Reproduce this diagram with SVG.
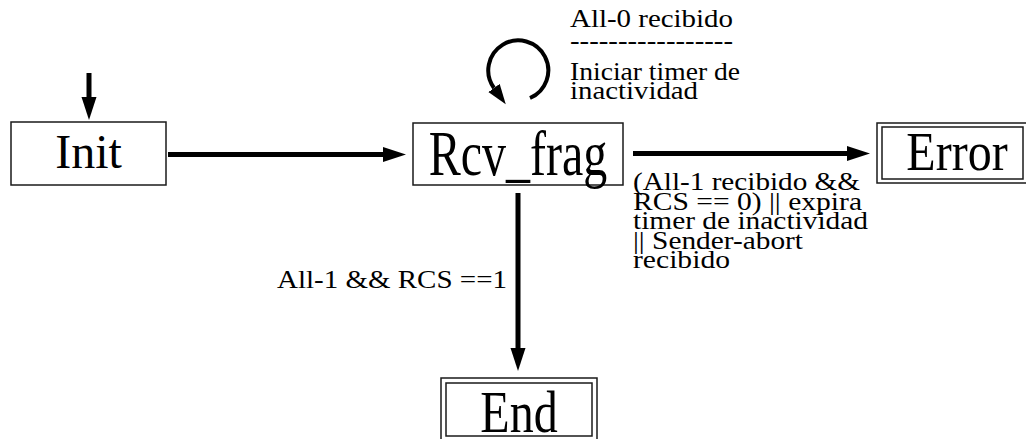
<svg xmlns="http://www.w3.org/2000/svg" width="1026" height="439" viewBox="0 0 1026 439">
  <style>
    .box { fill: #ffffff; stroke: #1a1a1a; stroke-width: 1.5; }
    .state { font-size: 48px; fill: #000; text-anchor: middle; }
    .lbl { font-size: 25px; fill: #000; }
    .edge { fill: none; stroke: #000; stroke-width: 5; }
    .loop { fill: none; stroke: #000; stroke-width: 4; }
  </style>
  <defs>
    <marker id="head" markerUnits="userSpaceOnUse" markerWidth="24" markerHeight="16" refX="0" refY="7.5" orient="auto">
      <path d="M0,0 L23,7.5 L0,15 Z" fill="#000"/>
    </marker>
    <marker id="headSmall" markerUnits="userSpaceOnUse" markerWidth="22" markerHeight="15" refX="0" refY="7" orient="auto">
      <path d="M0,0 L20,7 L0,14 Z" fill="#000"/>
    </marker>
  </defs>

  <rect width="1026" height="439" fill="#ffffff"/>

  <!-- transitions -->
  <g id="connectors">
    <line class="edge" x1="89" y1="73" x2="89" y2="97" marker-end="url(#head)"/>
    <line class="edge" x1="168" y1="154.5" x2="383" y2="154.5" marker-end="url(#head)"/>
    <line class="edge" x1="633" y1="153.5" x2="847" y2="153.5" marker-end="url(#head)"/>
    <line class="edge" x1="518" y1="193" x2="518" y2="348" marker-end="url(#head)"/>
    <path class="loop" d="M530,98 A30,30 0 1 0 494,88" marker-end="url(#headSmall)"/>
  </g>

  <!-- transition labels -->
  <g id="labels" font-family="'Liberation Serif', 'Times New Roman', serif">
    <g id="label-self">
      <text class="lbl" x="570" y="27" textLength="163" lengthAdjust="spacingAndGlyphs">All-0 recibido</text>
      <text class="lbl" x="570" y="49" textLength="163" lengthAdjust="spacingAndGlyphs">-----------------</text>
      <text class="lbl" x="570" y="80" textLength="170" lengthAdjust="spacingAndGlyphs">Iniciar timer de</text>
      <text class="lbl" x="570" y="99" textLength="128" lengthAdjust="spacingAndGlyphs">inactividad</text>
    </g>
    <g id="label-error">
      <text class="lbl" x="633" y="190" textLength="227" lengthAdjust="spacingAndGlyphs">(All-1 recibido &amp;&amp;</text>
      <text class="lbl" x="633" y="209.5" textLength="229" lengthAdjust="spacingAndGlyphs">RCS == 0) || expira</text>
      <text class="lbl" x="633" y="229" textLength="235" lengthAdjust="spacingAndGlyphs">timer de inactividad</text>
      <text class="lbl" x="633" y="248.5" textLength="170" lengthAdjust="spacingAndGlyphs">|| Sender-abort</text>
      <text class="lbl" x="633" y="268" textLength="97" lengthAdjust="spacingAndGlyphs">recibido</text>
    </g>
    <text id="label-end" class="lbl" x="277" y="288" textLength="230" lengthAdjust="spacingAndGlyphs" font-size="27">All-1 &amp;&amp; RCS ==1</text>
  </g>

  <!-- states -->
  <g id="states" font-family="'Liberation Serif', 'Times New Roman', serif">
    <g id="node-init">
      <rect class="box" x="11" y="122" width="155" height="63"/>
      <text class="state" x="88.5" y="168">Init</text>
    </g>
    <g id="node-rcv-frag">
      <rect class="box" x="413" y="123" width="210" height="62"/>
      <text class="state" transform="translate(518,175) scale(1,1.3)">Rcv_frag</text>
    </g>
    <g id="node-error">
      <rect class="box" x="877" y="123" width="155" height="60"/>
      <rect class="box" x="882" y="127" width="141" height="52"/>
      <text class="state" transform="translate(957,170) scale(1,1.15)">Error</text>
    </g>
    <g id="node-end">
      <rect class="box" x="441" y="378" width="156" height="64"/>
      <rect class="box" x="446" y="383" width="146" height="53"/>
      <text class="state" transform="translate(519,432) scale(1,1.25)">End</text>
    </g>
  </g>
</svg>
